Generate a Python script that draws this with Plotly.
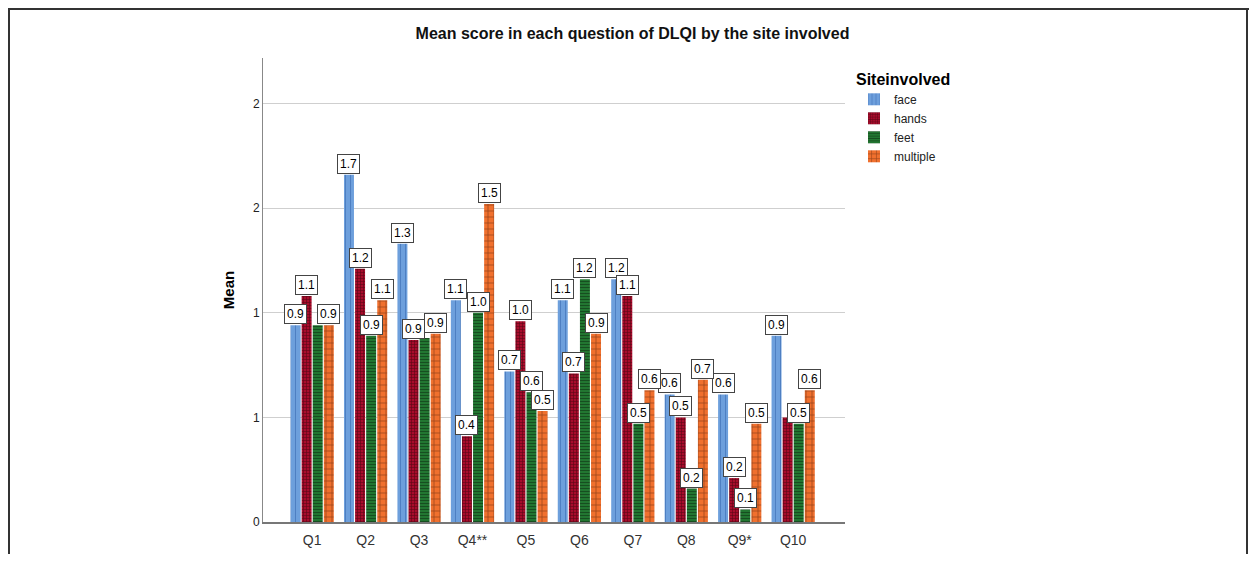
import plotly.graph_objects as go

questions = ["Q1", "Q2", "Q3", "Q4**", "Q5", "Q6", "Q7", "Q8", "Q9*", "Q10"]
face = [0.94, 1.66, 1.33, 1.06, 0.72, 1.06, 1.16, 0.61, 0.61, 0.89]
hands = [1.08, 1.21, 0.87, 0.41, 0.96, 0.71, 1.08, 0.50, 0.21, 0.50]
feet = [0.94, 0.89, 0.88, 1.00, 0.62, 1.16, 0.47, 0.16, 0.06, 0.47]
multiple = [0.94, 1.06, 0.90, 1.52, 0.53, 0.90, 0.63, 0.68, 0.47, 0.63]

# value labels that the reference does not display (hidden by overlap)
hidden_labels = [("feet", "Q1"), ("feet", "Q3"), ("hands", "Q10")]

y_tickvals = [0, 0.5, 1.0, 1.5, 2.0]
y_ticktext = ["0", "1", "1", "2", "2"]

series = [
    ("face", face, "#6d9fdc", "|", "#2f5fa8", 5, 0.2),
    ("hands", hands, "#a80c2c", "+", "#120000", 3, 0.35),
    ("feet", feet, "#237a33", "-", "#0b220d", 3, 0.4),
    ("multiple", multiple, "#f0702e", "+", "#4a1c08", 6, 0.25),
]

# page offset of the figure (browser body margin); keep the figure inside the viewport
OFF = 8
W, H = 1257 - 2 * OFF, 562 - 2 * OFF
L, R, T, B = 263 - OFF, 845 - OFF, 58 - OFF, 522 - OFF

fig = go.Figure()
for name, vals, col, shp, fg, sz, sol in series:
    fig.add_trace(go.Bar(
        name=name, x=questions, y=vals,
        marker=dict(color=col, line=dict(width=0),
                    pattern=dict(shape=shp, fgcolor=fg, size=sz, solidity=sol, fillmode="overlay")),
        hoverinfo="skip",
    ))

bargap, bargroupgap = 0.17, 0.1
slot = (1 - bargap) / len(series)
annotations = []
for i, (name, vals, *_rest) in enumerate(series):
    for j, v in enumerate(vals):
        if (name, questions[j]) in hidden_labels:
            continue
        annotations.append(dict(
            x=j + (i - (len(series) - 1) / 2) * slot, y=v, xref="x", yref="y",
            text=f"{v:.1f}", showarrow=False, yanchor="bottom", yshift=1,
            font=dict(family="Liberation Sans, Arial", size=12, color="#000"),
            bgcolor="white", bordercolor="#444", borderwidth=1, borderpad=2,
        ))

pw, ph = R - L, B - T
def px(x):
    return (x - OFF - L) / pw
def py(y):
    return (B - (y - OFF)) / ph

frame = dict(color="#333", width=2)
fig.update_layout(
    width=W, height=H,
    margin=dict(l=L, r=W - R, t=T, b=H - B, autoexpand=False),
    paper_bgcolor="white", plot_bgcolor="white",
    barmode="group", bargap=bargap, bargroupgap=bargroupgap,
    font=dict(family="Liberation Sans, Arial", color="#222"),
    title=dict(text="<b>Mean score in each question of DLQI by the site involved</b>",
               x=(632.5 - OFF) / W, xanchor="center", xref="container", y=1 - (33 - OFF) / H, yanchor="middle",
               font=dict(size=16, color="#111", family="Liberation Sans, Arial")),
    xaxis=dict(type="category", range=[-0.92, 9.97], showgrid=False, showline=True,
               linecolor="#777", linewidth=2, ticks="", tickfont=dict(size=14, color="#333"),
               ticklabelstandoff=4, fixedrange=True),
    yaxis=dict(range=[0, (B - T) / 209.2], tickvals=y_tickvals, ticktext=y_ticktext,
               showgrid=True, gridcolor="#cfcfcf", gridwidth=1, zeroline=False,
               showline=True, linecolor="#888", linewidth=1, ticks="",
               tickfont=dict(size=12, color="#222"),
               title=dict(text="<b>Mean</b>", font=dict(size=15, color="#000"), standoff=14)),
    legend=dict(x=px(854), y=py(64), xanchor="left", yanchor="top",
                title=dict(text="<b>Siteinvolved</b>", font=dict(size=16, color="#000")),
                font=dict(size=12, color="#222"), tracegroupgap=0, itemwidth=30,
                bgcolor="rgba(0,0,0,0)"),
    annotations=annotations,
    shapes=[
        dict(type="line", xref="paper", yref="paper", x0=px(8), x1=px(1249), y0=py(9), y1=py(9), line=frame),
        dict(type="line", xref="paper", yref="paper", x0=px(9), x1=px(9), y0=py(9), y1=py(556), line=frame),
        dict(type="line", xref="paper", yref="paper", x0=px(1247), x1=px(1247), y0=py(9), y1=py(556), line=frame),
    ],
)

fig.write_html("out.html")
